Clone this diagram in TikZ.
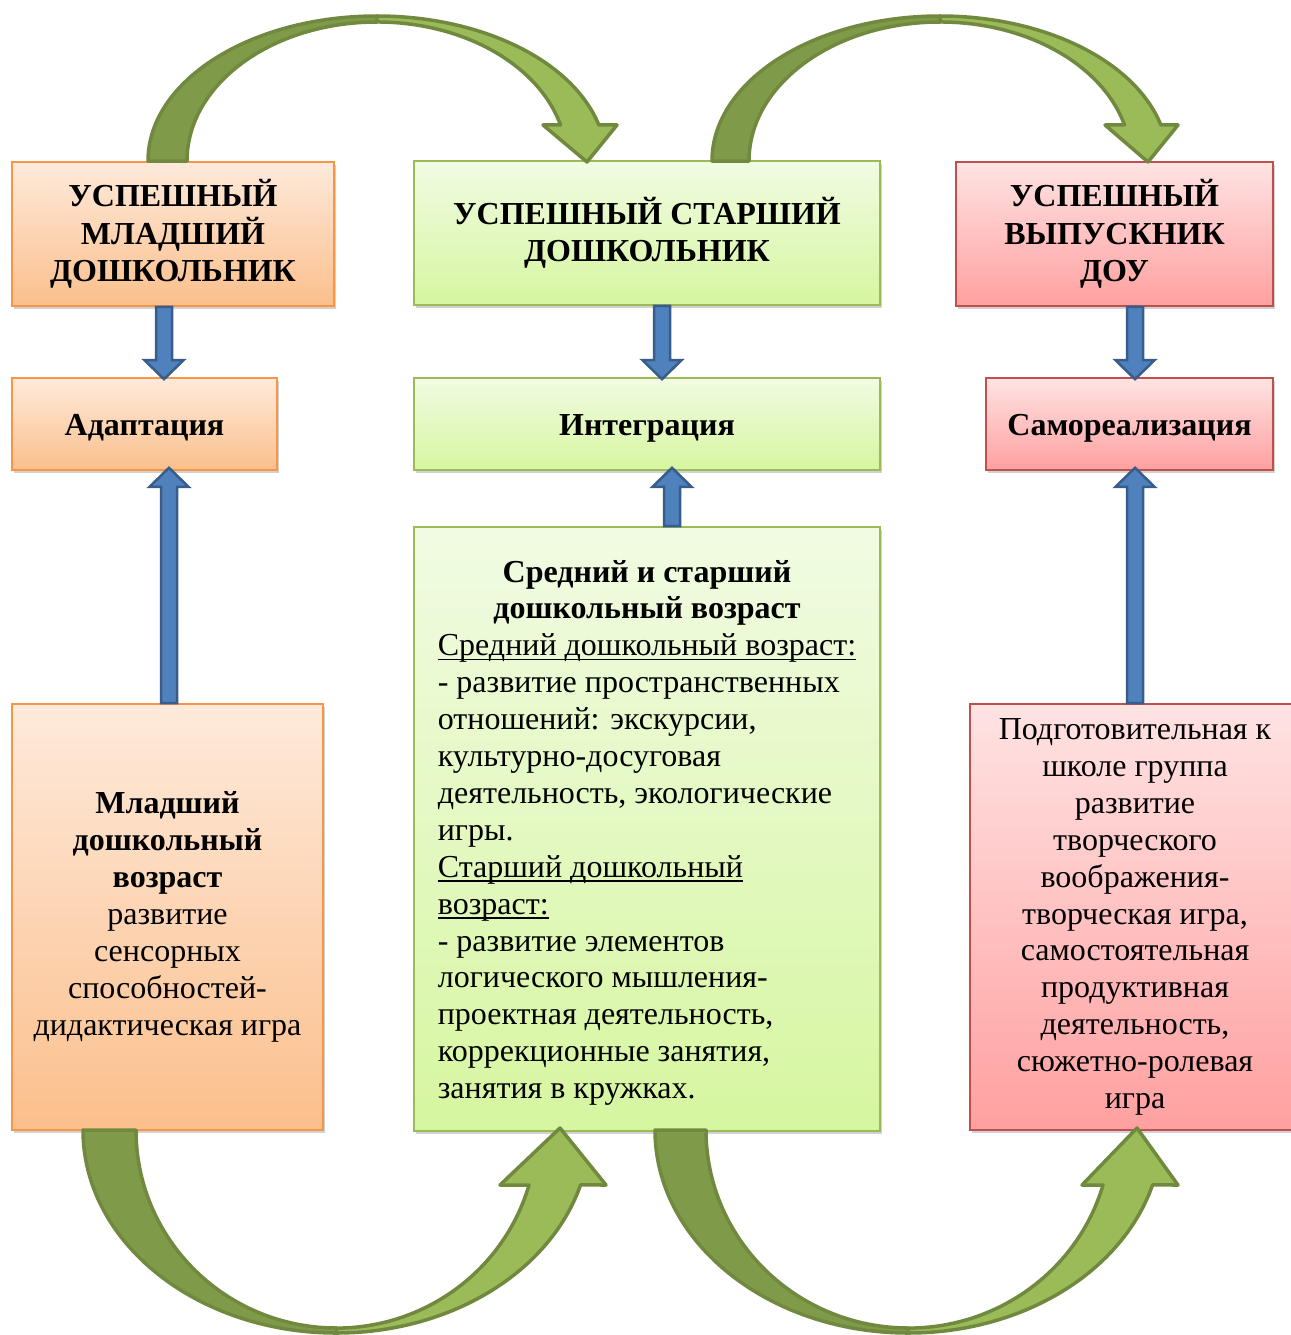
\documentclass[tikz,border=0pt]{standalone}
\usepackage{fontspec}
\setmainfont{Liberation Serif}
\usetikzlibrary{calc,shadows}
\definecolor{orBd}{HTML}{F79646}
\definecolor{orTop}{HTML}{FEEADB}
\definecolor{orBot}{HTML}{FBBF8C}
\definecolor{grBd}{HTML}{9BBB59}
\definecolor{grTop}{HTML}{F1FBE3}
\definecolor{grBot}{HTML}{D6F6A0}
\definecolor{rdBd}{HTML}{C0504D}
\definecolor{rdTop}{HTML}{FFE3E3}
\definecolor{rdBot}{HTML}{FFA0A0}
\definecolor{blFill}{HTML}{4F81BD}
\definecolor{blLine}{HTML}{385D8A}
\definecolor{gDark}{HTML}{7F9A48}
\definecolor{gLight}{HTML}{9BBB59}
\definecolor{gLine}{HTML}{71893F}
\newcommand\myul[1]{\setbox0=\hbox{#1}\rlap{\rule[-4.5pt]{\wd0}{1.6pt}}\box0}
\newcommand\lowered[2]{\raisebox{-#1}[\height][\depth]{#2}}
\newcommand\blockarrow[2]{%
  \coordinate (baS) at (#1);
  \coordinate (baT) at (#2);
  \coordinate (baH) at ($(baT)!19pt!(baS)$);
  \draw[blockarr] ($(baS)!8pt!90:(baT)$) -- ($(baH)!8pt!90:(baT)$) -- ($(baH)!19.5pt!90:(baT)$) -- (baT)
     -- ($(baH)!19.5pt!-90:(baT)$) -- ($(baH)!8pt!-90:(baT)$) -- ($(baS)!8pt!-90:(baT)$) -- cycle;}
\tikzset{
  boxbase/.style={line width=1.6pt, inner sep=2pt, align=center,
     drop shadow={shadow xshift=2pt, shadow yshift=-3pt, opacity=0.3, fill=black!60}},
  obox/.style={boxbase, draw=orBd, top color=orTop, bottom color=orBot},
  gbox/.style={boxbase, draw=grBd, top color=grTop, bottom color=grBot},
  rbox/.style={boxbase, draw=rdBd, top color=rdTop, bottom color=rdBot},
  headfont/.style={font=\fontsize{32}{37.5}\selectfont\bfseries},
  bodyfont/.style={font=\fontsize{32}{36.9}\selectfont},
  boldbody/.style={font=\fontsize{32}{36.9}\selectfont\bfseries},
  blockarr/.style={fill=blFill, draw=blLine, line width=2.5pt, line join=miter},
  gdarkpart/.style={fill=gDark, draw=gLine, line width=3.5pt, line join=round},
  glightpart/.style={fill=gLight, draw=gLine, line width=3.5pt, line join=round},
}
\begin{document}
\begin{tikzpicture}[x=1pt,y=-1pt]
\useasboundingbox (0,0) rectangle (1290,1335);
% top boxes
\node[obox, headfont, minimum width=322pt, minimum height=144pt] (A) at (173,234) {УСПЕШНЫЙ\\МЛАДШИЙ\\ДОШКОЛЬНИК};
\node[gbox, headfont, minimum width=466pt, minimum height=144pt] (B) at (647,233) {УСПЕШНЫЙ СТАРШИЙ\\ДОШКОЛЬНИК};
\node[rbox, headfont, minimum width=317pt, minimum height=144pt] (C) at (1114.5,234) {УСПЕШНЫЙ\\ВЫПУСКНИК\\ДОУ};
% middle boxes
\node[obox, boldbody, minimum width=265pt, minimum height=92pt] (ad) at (144.5,424) {\lowered{4pt}{Адаптация}};
\node[gbox, boldbody, minimum width=466pt, minimum height=92pt] (in) at (647,424) {\lowered{4pt}{Интеграция}};
\node[rbox, boldbody, minimum width=287pt, minimum height=92pt] (sa) at (1129.5,424) {\lowered{4pt}{Самореализация}};
% bottom boxes
\node[obox, bodyfont, minimum width=311pt, minimum height=426pt] (ml) at (167.5,917)
  {\textbf{Младший}\\\textbf{дошкольный}\\\textbf{возраст}\\развитие\\сенсорных\\способностей-\\дидактическая игра};
\node[gbox, bodyfont, minimum width=466pt, minimum height=604pt] (sr) at (647,829)
  {\lowered{4pt}{\renewcommand\arraystretch{1}\begin{tabular}{@{}l@{}}
   \multicolumn{1}{@{}c@{}}{\bfseries Средний и старший}\\
   \multicolumn{1}{@{}c@{}}{\bfseries дошкольный возраст}\\
   \myul{Средний дошкольный возраст:}\\
   - развитие пространственных\\
   отношений: экскурсии,\\
   культурно-досуговая\\
   деятельность, экологические\\
   игры.\\
   \myul{Старший дошкольный}\\
   \myul{возраст:}\\
   - развитие элементов\\
   логического мышления-\\
   проектная деятельность,\\
   коррекционные занятия,\\
   занятия в кружках.
  \end{tabular}}};
\node[rbox, bodyfont, minimum width=330pt, minimum height=426pt] (pg) at (1135,917)
  {Подготовительная к\\школе группа\\развитие\\творческого\\воображения-\\творческая игра,\\самостоятельная\\продуктивная\\деятельность,\\сюжетно-ролевая\\игра};
% green curved arrows: top 1
\draw[gdarkpart] (148,161) arc[start angle=180, end angle=90, x radius=229pt, y radius=145pt]
   -- (377,22) arc[start angle=90, end angle=180, x radius=190pt, y radius=139pt] -- cycle;
\draw[glightpart] (377,16) arc[start angle=90, end angle=14.4, x radius=229pt, y radius=145pt]
   -- (617,125) -- (587,162) -- (543,125) -- (560.5,125)
   arc[start angle=15, end angle=90, x radius=190pt, y radius=139pt] -- cycle;
% top 2
\draw[gdarkpart] (712,161) arc[start angle=180, end angle=90, x radius=228pt, y radius=145pt]
   -- (940,22) arc[start angle=90, end angle=180, x radius=191pt, y radius=139pt] -- cycle;
\draw[glightpart] (940,16) arc[start angle=90, end angle=14.4, x radius=228pt, y radius=145pt]
   -- (1178,125) -- (1148,162) -- (1105,125) -- (1124.5,125)
   arc[start angle=15, end angle=90, x radius=191pt, y radius=139pt] -- cycle;
% bottom 1
\draw[gdarkpart] (83,1130) arc[start angle=180, end angle=270, x radius=253.5pt, y radius=203pt]
   -- (336.5,1328) arc[start angle=270, end angle=180, x radius=200.5pt, y radius=198pt] -- cycle;
\draw[glightpart] (336.5,1333) arc[start angle=270, end angle=344.3, x radius=253.5pt, y radius=203pt]
   -- (606,1185) -- (560,1128) -- (500,1185) -- (529,1185)
   arc[start angle=343.9, end angle=270, x radius=200.5pt, y radius=198pt] -- cycle;
% bottom 2
\draw[gdarkpart] (655,1130) arc[start angle=180, end angle=270, x radius=253.5pt, y radius=203pt]
   -- (908.5,1328) arc[start angle=270, end angle=180, x radius=202.5pt, y radius=198pt] -- cycle;
\draw[glightpart] (908.5,1333) arc[start angle=270, end angle=344.3, x radius=253.5pt, y radius=203pt]
   -- (1178,1185) -- (1137,1128) -- (1082,1185) -- (1103,1185)
   arc[start angle=343.9, end angle=270, x radius=202.5pt, y radius=198pt] -- cycle;
% blue block arrows
\coordinate (x1) at (164,0);
\coordinate (x2) at (662,0);
\coordinate (x3) at (1135,0);
\coordinate (x4) at (169,0);
\coordinate (x5) at (672,0);
\blockarrow{A.south -| x1}{$(ad.north -| x1)+(0,2)$}
\blockarrow{B.south -| x2}{$(in.north -| x2)+(0,2)$}
\blockarrow{C.south -| x3}{$(sa.north -| x3)+(0,2)$}
\blockarrow{ml.north -| x4}{$(ad.south -| x4)+(0,-3)$}
\blockarrow{sr.north -| x5}{$(in.south -| x5)+(0,-3)$}
\blockarrow{pg.north -| x3}{$(sa.south -| x3)+(0,-3)$}
\end{tikzpicture}
\end{document}
